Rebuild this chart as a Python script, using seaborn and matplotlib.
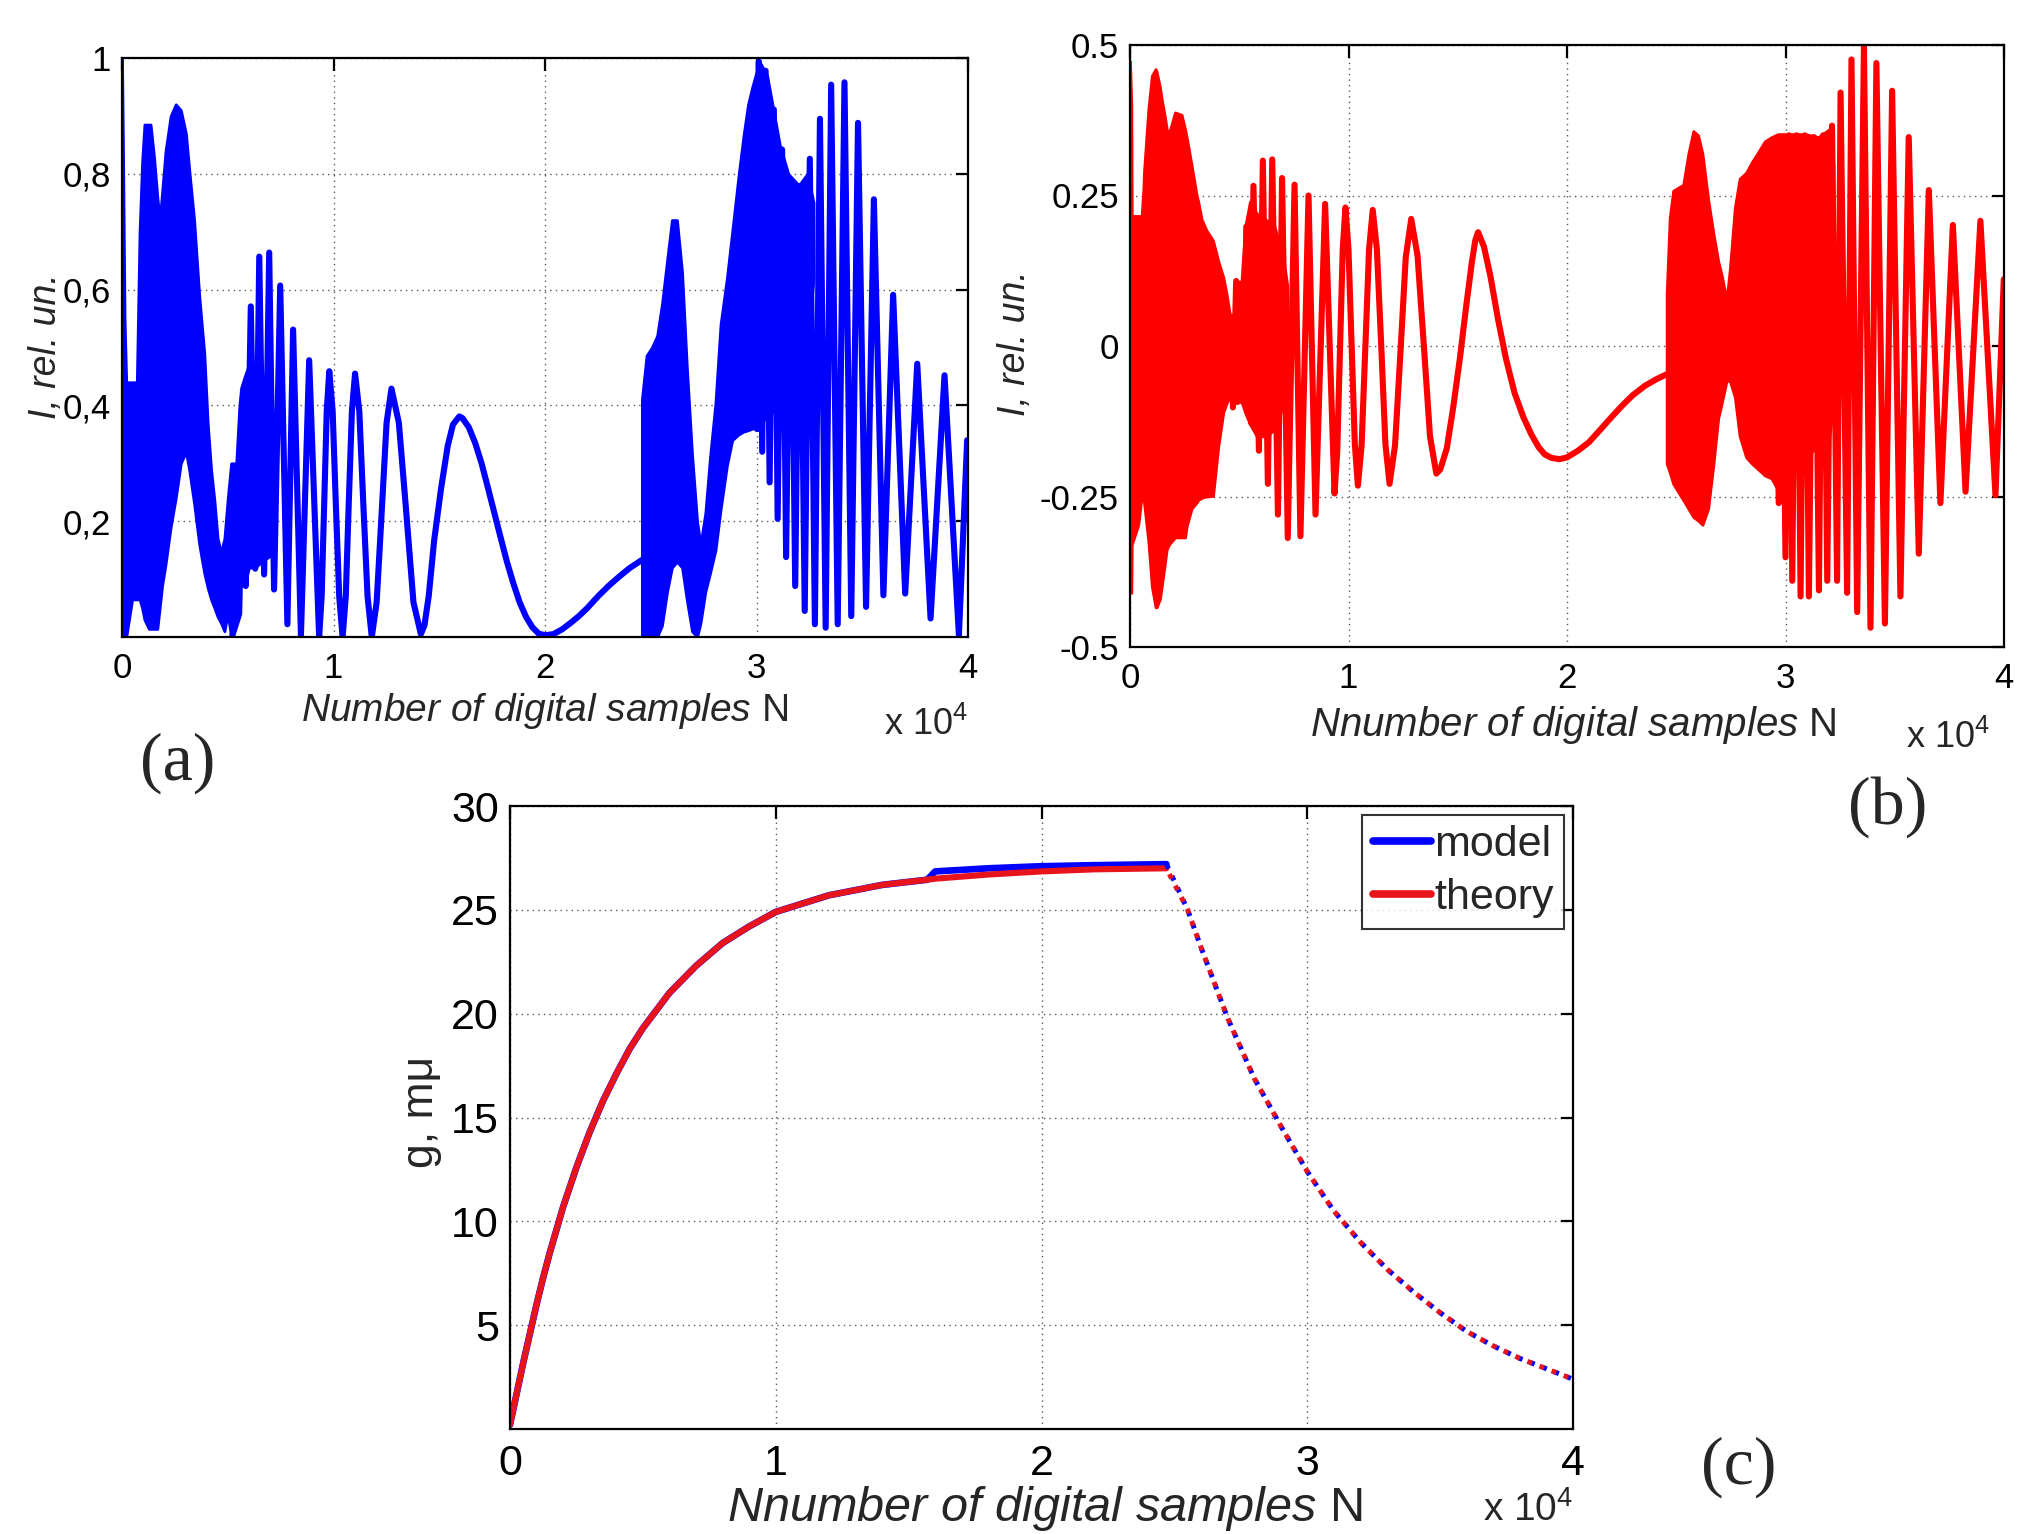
import matplotlib
matplotlib.use('Agg')
import pandas as pd
import matplotlib.pyplot as plt
import seaborn as sns

# ---- data, x in units of 10^4 samples ----
# panel (a): dense part at the start, drawn as envelope
a_fill1_x = [0, 0.005, 0.012, 0.02, 0.048, 0.07, 0.083, 0.095, 0.106, 0.127, 0.135, 0.151, 0.167, 0.178,
             0.19, 0.206, 0.23, 0.254, 0.278, 0.302, 0.317, 0.341, 0.365, 0.389, 0.405, 0.421, 0.437, 0.452,
             0.468, 0.484, 0.5, 0.516, 0.53, 0.54, 0.555, 0.563, 0.58, 0.6, 0.63, 0.66, 0.7, 0.72, 0.73]
a_fill1_up = [1.0, 0.83, 0.55, 0.44, 0.44, 0.44, 0.70, 0.82, 0.885, 0.885, 0.885, 0.83, 0.76, 0.72,
              0.77, 0.84, 0.90, 0.92, 0.91, 0.87, 0.81, 0.72, 0.59, 0.49, 0.37, 0.29, 0.235, 0.17,
              0.146, 0.17, 0.24, 0.30, 0.30, 0.30, 0.40, 0.43, 0.45, 0.47, 0.45, 0.42, 0.40, 0.30, 0.25]
a_fill1_lo = [0, 0, 0, 0, 0.065, 0.065, 0.065, 0.05, 0.03, 0.014, 0.014, 0.014, 0.014, 0.05,
              0.09, 0.126, 0.19, 0.24, 0.30, 0.32, 0.29, 0.23, 0.16, 0.11, 0.085, 0.065, 0.05, 0.035,
              0.024, 0.01, 0.04, 0.0, 0.03, 0.06, 0.09, 0.09, 0.09, 0.12, 0.12, 0.13, 0.14, 0.20, 0.25]
# visible oscillations
a_line1_x = [0.522, 0.554, 0.578, 0.585, 0.609, 0.63, 0.649, 0.672, 0.696, 0.719, 0.748, 0.782, 0.809, 0.846,
             0.885, 0.932, 0.944, 0.956, 0.968, 0.98, 0.996, 1.011, 1.027, 1.043, 1.058, 1.072, 1.087, 1.102,
             1.122, 1.141, 1.161, 1.181, 1.204, 1.227, 1.251, 1.274, 1.309, 1.343, 1.378, 1.413, 1.43, 1.45,
             1.476, 1.508, 1.54, 1.565, 1.595, 1.61, 1.64, 1.67, 1.70, 1.73, 1.76, 1.79, 1.82, 1.85,
             1.88, 1.91, 1.94, 1.97, 2.0, 2.04, 2.08, 2.12, 2.16, 2.2, 2.25, 2.3, 2.35, 2.4, 2.458]
a_line1_y = [0.003, 0.04, 0.432, 0.088, 0.571, 0.118, 0.657, 0.108, 0.664, 0.082, 0.607, 0.022, 0.531, 0.003,
             0.478, 0.0, 0.07, 0.23, 0.39, 0.459, 0.39, 0.23, 0.07, 0.0, 0.07, 0.23, 0.39, 0.455,
             0.39, 0.23, 0.07, 0.0, 0.06, 0.21, 0.37, 0.429, 0.37, 0.22, 0.06, 0.005, 0.02, 0.07,
             0.167, 0.255, 0.33, 0.367, 0.381, 0.378, 0.362, 0.335, 0.30, 0.258, 0.215, 0.172, 0.13, 0.093,
             0.06, 0.035, 0.017, 0.006, 0.003, 0.005, 0.013, 0.024, 0.036, 0.05, 0.07, 0.088, 0.104, 0.119, 0.133]
a_fill2_x = [2.458, 2.48, 2.505, 2.53, 2.553, 2.577, 2.6, 2.624, 2.648, 2.67, 2.695, 2.719, 2.735, 2.758,
             2.78, 2.806, 2.83, 2.86, 2.885, 2.916, 2.94, 2.96, 2.98, 3.003, 3.02, 3.05, 3.08, 3.11,
             3.15, 3.2, 3.24, 3.27]
a_fill2_up = [0.41, 0.486, 0.50, 0.52, 0.575, 0.65, 0.72, 0.72, 0.63, 0.47, 0.316, 0.20, 0.16, 0.214,
              0.31, 0.405, 0.54, 0.62, 0.70, 0.80, 0.87, 0.92, 0.95, 0.98, 0.99, 0.97, 0.91, 0.85,
              0.80, 0.78, 0.80, 0.75]
a_fill2_lo = [0.0, 0.0, 0.0, 0.0, 0.02, 0.078, 0.12, 0.13, 0.12, 0.065, 0.01, 0.0, 0.024, 0.078,
              0.11, 0.15, 0.22, 0.296, 0.34, 0.35, 0.355, 0.357, 0.36, 0.36, 0.37, 0.38, 0.39, 0.40,
              0.41, 0.43, 0.50, 0.62]
a_line2_x = [3.003, 3.011, 3.027, 3.043, 3.062, 3.082, 3.10, 3.121, 3.14, 3.161, 3.183, 3.205, 3.228, 3.252,
             3.276, 3.30, 3.327, 3.353, 3.384, 3.416, 3.448, 3.48, 3.518, 3.555, 3.60, 3.646, 3.703, 3.76,
             3.823, 3.889, 3.957, 3.996]
a_line2_y = [0.359, 0.994, 0.32, 0.978, 0.267, 0.911, 0.204, 0.842, 0.138, 0.789, 0.088, 0.779, 0.045, 0.826,
             0.022, 0.895, 0.016, 0.954, 0.022, 0.958, 0.036, 0.888, 0.052, 0.756, 0.072, 0.591, 0.075, 0.472,
             0.032, 0.452, 0.003, 0.34]

# panel (b)
b_fill1_x = [0.0, 0.006, 0.008, 0.038, 0.053, 0.061, 0.064, 0.084, 0.10, 0.117, 0.122, 0.137, 0.145, 0.16,
             0.168, 0.178, 0.206, 0.236, 0.252, 0.259, 0.282, 0.305, 0.312, 0.328, 0.35, 0.38, 0.404, 0.427,
             0.442, 0.457, 0.48, 0.488, 0.51, 0.526, 0.549, 0.58, 0.62, 0.66, 0.70, 0.72]
b_fill1_up = [0.473, 0.40, 0.216, 0.216, 0.216, 0.26, 0.29, 0.394, 0.449, 0.46, 0.455, 0.43, 0.41, 0.38,
              0.36, 0.353, 0.388, 0.384, 0.36, 0.347, 0.30, 0.25, 0.24, 0.21, 0.192, 0.175, 0.141, 0.114,
              0.086, 0.052, 0.052, 0.107, 0.107, 0.196, 0.24, 0.22, 0.21, 0.20, 0.15, 0.10]
b_fill1_lo = [-0.41, -0.41, -0.33, -0.297, -0.25, -0.229, -0.26, -0.325, -0.40, -0.434, -0.434, -0.42, -0.40, -0.36,
              -0.338, -0.33, -0.318, -0.318, -0.318, -0.30, -0.27, -0.26, -0.256, -0.252, -0.25, -0.249, -0.167, -0.11,
              -0.095, -0.085, -0.092, -0.095, -0.092, -0.11, -0.13, -0.15, -0.15, -0.14, -0.10, -0.05]
b_line1_x = [0.471, 0.486, 0.524, 0.532, 0.555, 0.565, 0.59, 0.608, 0.631, 0.651, 0.677, 0.696, 0.722, 0.753,
             0.78, 0.817, 0.849, 0.893, 0.936, 0.9485, 0.961, 0.9735, 0.986, 1.0, 1.0145, 1.029, 1.043, 1.06,
             1.077, 1.094, 1.111, 1.13, 1.15, 1.169, 1.188, 1.213, 1.238, 1.262, 1.287, 1.316, 1.345, 1.373,
             1.402, 1.42, 1.45, 1.48, 1.51, 1.54, 1.565, 1.58, 1.593, 1.62, 1.65, 1.684, 1.72, 1.76,
             1.8, 1.837, 1.87, 1.898, 1.93, 1.966, 2.0, 2.05, 2.1, 2.15, 2.204, 2.25, 2.3, 2.357,
             2.41, 2.456]
b_line1_y = [-0.102, 0.108, -0.096, 0.198, -0.128, 0.266, -0.174, 0.308, -0.229, 0.31, -0.28, 0.279, -0.319, 0.268,
             -0.316, 0.25, -0.28, 0.236, -0.245, -0.175, -0.007, 0.16, 0.23, 0.16, -0.001, -0.163, -0.232, -0.165,
             -0.003, 0.16, 0.226, 0.16, -0.001, -0.163, -0.229, -0.165, -0.009, 0.147, 0.211, 0.15, 0.0, -0.15,
             -0.212, -0.205, -0.17, -0.10, -0.02, 0.07, 0.14, 0.175, 0.189, 0.165, 0.115, 0.045, -0.02, -0.078,
             -0.118, -0.147, -0.168, -0.18, -0.186, -0.188, -0.185, -0.174, -0.16, -0.14, -0.118, -0.10, -0.082, -0.066,
             -0.055, -0.047]
b_fill2_x = [2.456, 2.47, 2.486, 2.532, 2.555, 2.578, 2.60, 2.62, 2.646, 2.669, 2.692, 2.71, 2.73, 2.745,
             2.768, 2.79, 2.82, 2.845, 2.875, 2.905, 2.936, 2.966, 3.0, 3.03, 3.09, 3.15, 3.2, 3.22]
b_fill2_up = [0.086, 0.213, 0.258, 0.268, 0.319, 0.357, 0.35, 0.319, 0.244, 0.189, 0.141, 0.114, 0.076, 0.127,
              0.23, 0.278, 0.288, 0.305, 0.322, 0.34, 0.347, 0.352, 0.352, 0.352, 0.352, 0.347, 0.36, 0.30]
b_fill2_lo = [-0.195, -0.21, -0.229, -0.256, -0.27, -0.284, -0.29, -0.297, -0.27, -0.20, -0.12, -0.092, -0.058, -0.058,
              -0.085, -0.15, -0.185, -0.195, -0.205, -0.215, -0.22, -0.24, -0.22, -0.2, -0.18, -0.17, -0.15, -0.1]
b_line2_x = [2.931, 2.947, 2.969, 2.977, 3.0, 3.016, 3.031, 3.05, 3.069, 3.088, 3.107, 3.13, 3.153, 3.172,
             3.191, 3.213, 3.236, 3.252, 3.282, 3.302, 3.328, 3.359, 3.389, 3.416, 3.455, 3.488, 3.526, 3.564,
             3.61, 3.656, 3.709, 3.766, 3.824, 3.892, 3.961, 3.999]
b_line2_y = [-0.209, 0.324, -0.261, 0.343, -0.351, 0.35, -0.39, 0.35, -0.416, 0.35, -0.416, 0.347, -0.406, 0.35,
             -0.39, 0.366, -0.39, 0.421, -0.41, 0.476, -0.442, 0.499, -0.468, 0.47, -0.461, 0.424, -0.416, 0.347,
             -0.345, 0.259, -0.261, 0.201, -0.242, 0.208, -0.248, 0.111]

# panel (c)
c_rise_x = [0, 0.025, 0.05, 0.075, 0.1, 0.125, 0.15, 0.2, 0.25, 0.3, 0.35, 0.4, 0.45, 0.5, 0.6, 0.7, 0.8, 0.9,
            1.0, 1.2, 1.4, 1.57, 1.6, 1.8, 2.0, 2.2, 2.47]
c_theory_rise = [0.2, 1.7, 3.2, 4.6, 6.0, 7.3, 8.5, 10.7, 12.6, 14.3, 15.8, 17.1, 18.3, 19.3, 21.0, 22.3, 23.4, 24.2,
                 24.9, 25.7, 26.2, 26.45, 26.5, 26.7, 26.85, 26.95, 27.0]
c_model_rise = [0.2, 1.7, 3.2, 4.6, 6.0, 7.3, 8.5, 10.7, 12.6, 14.3, 15.8, 17.1, 18.3, 19.3, 21.0, 22.3, 23.4, 24.2,
                24.9, 25.7, 26.2, 26.45, 26.85, 27.0, 27.1, 27.15, 27.2]
c_decay_x = [2.47, 2.55, 2.6, 2.7, 2.8, 2.9, 3.0, 3.1, 3.2, 3.3, 3.4, 3.5, 3.6, 3.7, 3.8, 3.9, 4.0]
c_model_decay = [27.2, 25.0, 23.2, 19.8, 16.9, 14.6, 12.4, 10.5, 9.0, 7.7, 6.6, 5.6, 4.7, 4.0, 3.4, 2.9, 2.4]
c_theory_decay = [27.0, 25.0, 23.2, 19.8, 16.9, 14.6, 12.4, 10.5, 9.0, 7.7, 6.6, 5.6, 4.7, 4.0, 3.4, 2.9, 2.4]

a_yticks = [0.2, 0.4, 0.6, 0.8, 1.0]
a_yticklabels = ['0,2', '0,4', '0,6', '0,8', '1']
b_yticks = [-0.5, -0.25, 0, 0.25, 0.5]
b_yticklabels = ['-0.5', '-0.25', '0', '0.25', '0.5']
c_yticks = [5, 10, 15, 20, 25, 30]
x_ticks = [0, 1, 2, 3, 4]

BLUE = '#0000ff'
RED = '#ff0000'
RED_C = '#e8141c'

sns.set_style('white')
plt.rcParams['font.family'] = ['Liberation Sans', 'DejaVu Sans']
plt.rcParams['mathtext.fontset'] = 'custom'
plt.rcParams['mathtext.rm'] = 'Liberation Sans'
plt.rcParams['mathtext.it'] = 'Liberation Sans:italic'

fig = plt.figure(figsize=(20.18, 15.34), dpi=100)
W, H = 2018.0, 1534.0


def box(left, right, top, bottom):
    return [left / W, 1 - bottom / H, (right - left) / W, (bottom - top) / H]


ax_a = fig.add_axes(box(122, 968, 58, 637))
ax_b = fig.add_axes(box(1130, 2004, 45, 647))
ax_c = fig.add_axes(box(510, 1573, 806, 1429))


def style(ax, fs):
    ax.set_xlim(0, 4)
    ax.set_xticks(x_ticks)
    ax.grid(True, color='0.35', linestyle=(0, (1, 3)), linewidth=1.0)
    ax.set_axisbelow(True)
    for s in ax.spines.values():
        s.set_color('black')
        s.set_linewidth(1.6)
    ax.tick_params(direction='in', length=9, width=1.6, top=True, right=True,
                   labelsize=fs, colors='black', pad=8)
    ax.tick_params(axis='x', pad=11)


def line(ax, x, y, color, **kw):
    df = pd.DataFrame({'x': x, 'y': y})
    sns.lineplot(data=df, x='x', y='y', ax=ax, color=color, estimator=None, sort=False, **kw)


def band(ax, x, lo, up, color):
    ax.fill_between(x, lo, up, color=color, linewidth=2, edgecolor=color)


# (a)
band(ax_a, a_fill1_x, a_fill1_lo, a_fill1_up, BLUE)
band(ax_a, a_fill2_x, a_fill2_lo, a_fill2_up, BLUE)
line(ax_a, a_line1_x, a_line1_y, BLUE, linewidth=4.4)
line(ax_a, a_line2_x, a_line2_y, BLUE, linewidth=4.4)
style(ax_a, 25)
ax_a.set_ylim(0, 1)
ax_a.set_yticks(a_yticks)
ax_a.set_yticklabels(a_yticklabels)

# (b)
band(ax_b, b_fill1_x, b_fill1_lo, b_fill1_up, RED)
band(ax_b, b_fill2_x, b_fill2_lo, b_fill2_up, RED)
line(ax_b, b_line1_x, b_line1_y, RED, linewidth=4.4)
line(ax_b, b_line2_x, b_line2_y, RED, linewidth=4.4)
style(ax_b, 25)
ax_b.set_ylim(-0.5, 0.5)
ax_b.set_yticks(b_yticks)
ax_b.set_yticklabels(b_yticklabels)

# (c)
line(ax_c, c_rise_x, c_model_rise, BLUE, linewidth=4.8, label='model')
line(ax_c, c_rise_x, c_theory_rise, RED_C, linewidth=4.4, label='theory')
line(ax_c, c_decay_x, c_model_decay, BLUE, linewidth=3.6, linestyle=(0, (1, 1.6)))
line(ax_c, c_decay_x, c_theory_decay, RED_C, linewidth=3.6, linestyle=(1.3, (1, 1.6)))
style(ax_c, 31)
ax_c.set_ylim(0, 30)
ax_c.set_yticks(c_yticks)
leg = ax_c.legend(loc='upper right', fontsize=31, frameon=True, fancybox=False,
                  handlelength=1.35, handletextpad=0.08, borderpad=0.25, labelspacing=0.3,
                  borderaxespad=0.2)
leg.get_frame().set_edgecolor('black')
leg.get_frame().set_linewidth(1.5)
for h in leg.get_lines():
    h.set_linewidth(5.5)

# axis labels
for ax, fs, lab, lx, ly in [
        (ax_a, 28, r'$\mathit{Number\ of\ digital\ samples}$ N', 0.499, -0.128),
        (ax_b, 29, r'$\mathit{Nnumber\ of\ digital\ samples}$ N', 0.507, -0.130),
        (ax_c, 35, r'$\mathit{Nnumber\ of\ digital\ samples}$ N', 0.503, -0.128)]:
    ax.set_xlabel(lab, fontsize=fs)
    ax.xaxis.set_label_coords(lx, ly)
    ax.xaxis.label.set_verticalalignment('center')

ax_a.set_ylabel('I, rel. un.', fontsize=27, fontstyle='italic')
ax_a.yaxis.set_label_coords(-0.09, 0.503)
ax_b.set_ylabel('I, rel. un.', fontsize=27, fontstyle='italic')
ax_b.yaxis.set_label_coords(-0.132, 0.505)
ax_c.set_ylabel('g, m\u03bc', fontsize=32)
ax_c.yaxis.set_label_coords(-0.083, 0.509)
for ax in (ax_a, ax_b, ax_c):
    ax.yaxis.label.set_verticalalignment('center')

# x 10^4 multipliers
ax_a.text(1.0, -0.152, r'x 10$^4$', transform=ax_a.transAxes, ha='right', va='center', fontsize=26)
ax_b.text(0.984, -0.151, r'x 10$^4$', transform=ax_b.transAxes, ha='right', va='center', fontsize=26)
ax_c.text(1.0, -0.13, r'x 10$^4$', transform=ax_c.transAxes, ha='right', va='center', fontsize=28)

# panel tags
for t, x, y in [('(a)', 178, 763), ('(b)', 1888, 807), ('(c)', 1739, 1467)]:
    fig.text(x / W, 1 - y / H, t, fontsize=49, family='Liberation Serif', ha='center', va='center')

fig.savefig('out.png', dpi=100)
